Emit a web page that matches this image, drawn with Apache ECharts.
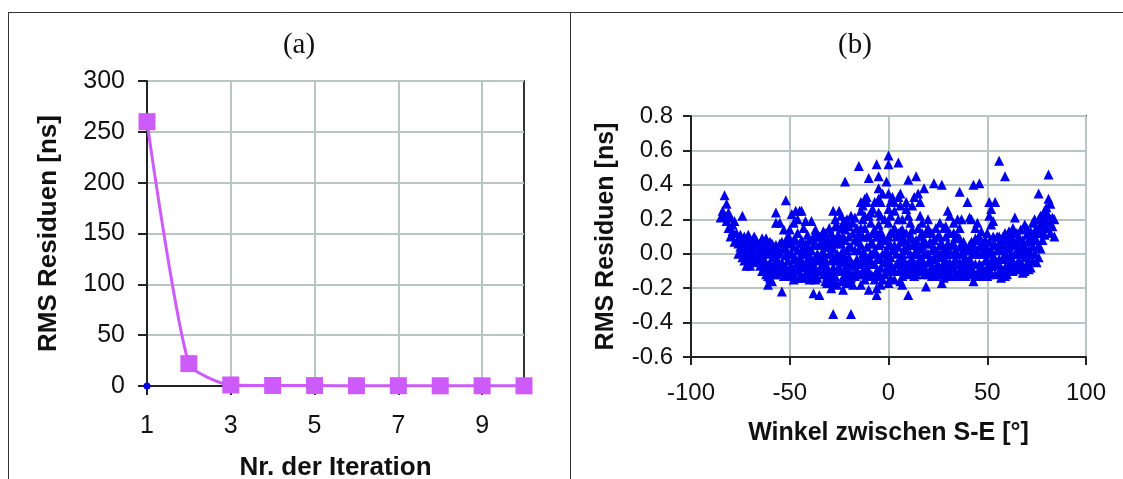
<!DOCTYPE html>
<html>
<head>
<meta charset="utf-8">
<script src="https://cdn.jsdelivr.net/npm/echarts@6/dist/echarts.min.js"></script>
<style>
  html, body { margin: 0; padding: 0; background: #ffffff; }
  #chart { width: 1123px; height: 479px; }
</style>
</head>
<body>
<div id="chart"></div>
<script>
// (a) convergence of the RMS residuals per iteration
const iterations = ['1', '2', '3', '4', '5', '6', '7', '8', '9', '10'];
const rmsPerIteration = [260, 22, 1, 0.5, 0.4, 0.3, 0.3, 0.2, 0.2, 0.2];
const startMarker = [0];

// (b) RMS residuals [ns] against the S-E angle [deg], grouped by angle sector
const sectorFarWest = [
  [-83,0.34],[-82,0.29],[-84,0.25],[-85,0.21],[-83,0.22],[-81,0.24],[-82,0.19],[-80,0.21],[-79,0.17],
  [-81,0.15],[-78,0.19],[-74,0.22],[-79,0.13],[-80,0.10],[-77,0.12],[-76,0.09],[-78,0.07],
  [-75,0.11],[-74,0.08],[-73,0.10],[-72,0.07],[-71,0.11],[-70,0.08],[-69,0.05],[-75,0.04],[-74,0.01],
  [-72,0.03],[-71,0.00],[-70,-0.02],[-73,-0.04],[-72,-0.07],[-70,-0.07],[-68,-0.05],[-69,0.02],[-67,0.08],
  [-66,0.05],[-68,0.10],[-67,-0.01],[-66,-0.03],[-65,0.02],[-76,0.00],[-71,0.05],
  [-76,0.06],[-74,-0.02],[-73,0.06],[-71,-0.03],[-69,0.08],[-68,-0.01],[-67,0.04],[-70,0.03],[-72,-0.01]
];
const sectorWest = [
  [-64,0.09],[-63,0.06],[-62,0.09],[-61,0.04],[-60,0.07],[-59,0.02],[-64,0.00],[-63,-0.03],[-62,-0.06],
  [-61,-0.09],[-60,-0.05],[-59,-0.10],[-58,-0.02],[-57,0.05],[-56,0.00],[-58,-0.07],[-57,-0.12],[-56,-0.09],
  [-65,-0.07],[-64,-0.10],[-62,-0.12],[-60,-0.14],[-61,-0.18],[-59,-0.16],[-57,0.24],[-57,0.18],[-55,0.18],
  [-63,0.03],[-60,0.01],[-58,0.04],[-55,0.06],[-56,-0.04],
  [-52,0.31],[-54,-0.22],[-53,0.14],[-51,0.10],[-50,0.06],[-54,0.07],[-53,0.03],[-52,-0.01],[-51,-0.04],
  [-50,-0.08],[-49,-0.12],[-48,-0.15],[-47,-0.10],[-46,-0.05],[-49,0.00],[-48,0.04],[-47,0.08],[-46,0.12],
  [-55,-0.07],[-53,-0.10],[-51,-0.13],[-47,0.25],[-49,0.23],[-45,0.25],[-46,0.20],[-48,0.18],[-50,0.14],
  [-52,0.07],[-47,-0.03],[-45,-0.14],[-44,0.02],
  [-65,0.06],[-65,-0.04],[-64,0.04],[-63,-0.08],[-62,0.01],[-61,-0.13],[-61,0.00],[-60,-0.09],[-59,0.06],
  [-58,-0.12],[-57,-0.05],[-56,0.03],[-55,-0.11],[-55,0.01],[-54,-0.05],[-53,-0.13],[-52,-0.08],[-52,0.03],
  [-51,0.00],[-50,-0.11],[-50,0.09],[-49,-0.07],[-48,-0.03],[-48,0.08],[-47,-0.14],[-46,0.02],[-46,-0.10],
  [-45,0.06],[-45,-0.07],[-64,-0.06],[-66,0.00]
];
const sectorMidWest = [
  [-44,0.25],[-42,0.19],[-39,0.19],[-43,0.15],[-41,0.11],[-40,0.08],[-38,0.10],[-37,0.06],[-44,0.08],
  [-43,0.04],[-42,0.00],[-41,-0.03],[-40,-0.06],[-39,-0.09],[-38,-0.12],[-37,-0.15],[-43,-0.08],[-42,-0.12],
  [-44,-0.13],[-40,-0.15],[-38,-0.23],[-35,-0.24],[-36,-0.04],[-39,0.02],[-37,0.14],[-36,0.11],[-35,0.05],
  [-45,-0.02],[-41,0.05],
  [-34,0.10],[-33,0.13],[-32,0.08],[-31,0.04],[-30,0.15],[-29,0.12],[-28,0.25],[-27,0.20],[-26,0.16],
  [-34,0.00],[-33,-0.05],[-32,-0.09],[-31,-0.13],[-30,-0.17],[-29,-0.20],[-28,-0.08],[-27,-0.13],[-26,-0.04],
  [-35,-0.10],[-30,0.00],[-29,-0.04],[-28,-0.35],[-33,0.06],[-31,0.10],[-27,0.07],[-26,0.00],[-28,0.03],
  [-32,-0.16],[-26,-0.18],
  [-44,-0.04],[-43,0.00],[-43,-0.14],[-42,0.06],[-42,-0.06],[-41,-0.10],[-41,0.00],[-40,0.02],[-40,-0.11],
  [-39,-0.03],[-39,-0.14],[-38,0.05],[-38,-0.06],[-37,-0.02],[-37,-0.10],[-36,0.00],[-36,-0.14],[-35,0.10],
  [-35,-0.02],[-34,-0.07],[-34,0.05],[-33,-0.12],[-33,0.01],[-32,0.12],[-32,-0.03],[-31,-0.08],[-31,0.07],
  [-30,0.04],[-30,-0.10],[-29,0.00],[-29,-0.15],[-28,0.09],[-28,-0.12],[-27,0.16],[-27,-0.03],[-26,0.10],
  [-26,-0.09],[-27,-0.17],[-29,0.06],[-31,-0.17]
];
const sectorCentreWest = [
  [-25,0.25],[-24,0.22],[-23,0.18],[-22,0.14],[-21,0.20],[-20,0.16],[-19,0.22],[-18,0.18],[-17,0.21],
  [-22,0.42],[-25,0.10],[-24,0.06],[-23,0.02],[-22,-0.02],[-21,-0.06],[-20,-0.10],[-19,-0.14],[-24,-0.10],
  [-23,-0.14],[-23,-0.21],[-21,-0.17],[-19,-0.35],[-18,-0.18],[-17,-0.13],[-18,-0.06],[-17,0.02],[-16,0.08],
  [-20,0.04],[-25,-0.03],[-22,0.08],[-16,-0.03],
  [-15,0.51],[-14,0.30],[-13,0.28],[-12,0.32],[-11,0.30],[-10,0.44],[-14,0.25],[-13,0.20],[-12,0.15],
  [-11,0.10],[-10,0.22],[-9,0.18],[-14,0.05],[-13,0.00],[-14,-0.05],[-13,-0.10],[-12,-0.15],[-11,-0.08],
  [-10,-0.03],[-9,-0.12],[-10,-0.21],[-14,-0.18],[-8,0.12],[-8,0.26],[-7,0.30],[-9,0.06],[-8,-0.06],
  [-7,0.02],[-7,-0.15],[-6,-0.24],[-15,0.12],[-15,0.02],[-15,-0.12],[-11,0.33],[-12,-0.05],
  [-25,0.06],[-25,-0.08],[-24,0.00],[-24,0.15],[-24,-0.16],[-23,-0.05],[-23,0.10],[-22,-0.09],[-22,0.19],
  [-21,0.02],[-21,-0.12],[-20,-0.02],[-20,0.10],[-20,-0.16],[-19,0.04],[-19,-0.06],[-18,0.12],[-18,-0.12],
  [-17,-0.07],[-17,0.08],[-16,0.15],[-16,-0.10],[-15,0.07],[-15,-0.06],[-14,0.15],[-14,-0.12],[-13,0.10],
  [-13,-0.04],[-12,0.22],[-12,0.00],[-11,-0.13],[-11,0.04],[-10,0.10],[-10,-0.12],[-9,-0.04],[-9,0.00],
  [-8,0.06],[-8,-0.13],[-7,-0.06],[-7,0.14],[-9,0.24]
];
const sectorCentre = [
  [-6,0.52],[-5,0.45],[-5,0.38],[-4,0.30],[-5,0.32],[-4,0.22],[-5,0.17],[-4,0.13],[-5,0.10],
  [-4,0.06],[-5,-0.02],[-4,-0.08],[-5,-0.12],[-4,-0.18],[-6,-0.20],[0,0.57],[0,0.52],[0,0.35],
  [1,0.30],[0,0.26],[1,0.22],[0,0.18],[1,0.12],[0,0.05],[0,-0.01],[1,-0.06],[0,-0.10],
  [1,-0.14],[0,-0.17],[-2,0.08],[-2,-0.05],[2,0.02],[3,-0.10],[3,0.25],[-3,0.35],[-2,0.20],
  [2,0.33],[3,0.15],[-1,0.42],
  [5,0.53],[6,0.35],[5,0.33],[6,0.28],[7,0.20],[5,0.20],[6,0.13],[7,0.08],[5,0.04],
  [6,-0.02],[7,-0.07],[5,-0.10],[6,-0.16],[7,-0.13],[8,0.03],[9,0.12],[9,0.26],[10,0.22],
  [11,0.18],[10,0.43],[9,0.30],[10,-0.24],[11,0.10],[12,0.05],[13,0.00],[14,0.45],[13,0.33],
  [12,0.14],[11,-0.05],[12,-0.10],[13,-0.13],[10,-0.06],[14,0.08],[14,-0.06],[8,-0.10],[12,0.28],
  [-6,0.00],[-6,0.10],[-6,-0.10],[-5,0.05],[-5,0.24],[-4,-0.03],[-4,-0.13],[-3,0.00],[-3,-0.15],
  [-3,0.10],[-2,-0.12],[-1,0.02],[-1,-0.08],[0,0.10],[0,-0.05],[1,0.05],[1,-0.02],[2,-0.08],
  [2,0.12],[3,0.05],[3,-0.15],[4,0.00],[4,-0.06],[4,0.10],[5,-0.05],[5,0.12],[6,0.07],
  [6,-0.10],[7,0.00],[7,-0.18],[8,0.08],[8,-0.04],[9,-0.08],[9,0.02],[10,0.05],[10,-0.12],
  [11,0.00],[11,-0.10],[12,-0.03],[12,0.09],[13,0.06],[13,-0.08],[14,0.02],[14,-0.12],[7,0.14],[3,0.30]
];
const sectorMidEast = [
  [15,0.35],[16,0.30],[17,0.18],[18,0.38],[15,0.15],[16,0.10],[17,0.05],[15,0.00],[16,-0.04],
  [17,-0.09],[18,-0.12],[19,-0.19],[19,0.12],[20,0.15],[21,0.07],[22,0.02],[20,-0.05],[21,-0.10],
  [22,-0.13],[23,0.41],[23,0.08],[24,0.15],[24,-0.08],[19,0.00],[18,0.08],[22,0.12],[15,-0.10],
  [20,0.20],[23,-0.03],[16,0.22],
  [27,0.40],[28,0.15],[29,0.10],[30,0.25],[31,0.22],[26,0.05],[27,0.00],[28,-0.05],[29,-0.10],
  [30,-0.13],[27,-0.17],[26,-0.12],[25,-0.06],[25,0.10],[31,0.00],[32,0.05],[33,0.12],[32,-0.08],
  [33,-0.13],[34,-0.10],[30,0.06],[29,0.16],[26,0.18],[34,0.02],[31,-0.05],[33,0.18],[28,-0.14],
  [15,0.05],[15,-0.05],[16,0.03],[16,-0.09],[17,-0.03],[17,0.12],[18,0.00],[18,-0.07],[19,0.06],
  [19,-0.10],[20,0.00],[20,-0.12],[21,-0.04],[21,0.12],[22,-0.07],[22,0.06],[23,-0.10],[23,0.03],
  [24,0.00],[24,-0.13],[25,0.02],[25,-0.12],[26,-0.02],[26,0.10],[27,-0.08],[27,0.06],[28,0.00],
  [28,-0.10],[29,-0.04],[29,0.03],[30,-0.07],[30,0.00],[31,0.12],[31,-0.12],[32,0.00],[32,-0.13],
  [33,-0.05],[33,0.06],[34,-0.03],[34,0.10]
];
const sectorEast = [
  [36,0.36],[40,0.30],[43,0.40],[35,0.20],[36,0.15],[37,0.20],[35,0.10],[36,0.04],[37,0.00],
  [38,-0.04],[39,-0.08],[40,-0.12],[41,-0.03],[42,0.02],[43,0.05],[44,0.09],[42,0.20],[41,0.21],
  [43,-0.16],[42,-0.10],[44,-0.06],[36,-0.10],[37,-0.13],[39,0.02],[35,-0.06],[44,0.15],[38,0.07],
  [46,0.41],[51,0.30],[54,0.30],[45,0.18],[46,0.10],[47,0.05],[48,0.00],[49,-0.04],[50,-0.08],
  [51,-0.12],[52,-0.07],[53,-0.02],[45,-0.11],[46,-0.06],[47,-0.13],[48,-0.09],[49,0.08],[50,0.12],
  [51,0.22],[52,0.17],[53,0.10],[54,0.05],[52,0.26],[54,-0.12],[53,0.19],[50,0.03],[47,0.13],
  [35,0.00],[35,-0.12],[36,-0.05],[36,0.09],[37,-0.08],[37,0.05],[38,-0.10],[38,0.00],[39,-0.13],
  [39,-0.03],[40,-0.07],[40,0.02],[41,-0.12],[41,0.05],[42,-0.05],[42,0.07],[43,0.00],[43,-0.10],
  [44,0.03],[44,-0.13],[45,0.00],[45,0.08],[46,-0.10],[46,0.04],[47,-0.07],[47,0.00],[48,-0.13],
  [48,0.05],[49,-0.10],[49,0.02],[50,-0.04],[50,-0.13],[51,0.00],[51,0.07],[52,-0.11],[52,0.02],
  [53,-0.07],[53,0.05],[54,-0.03],[55,0.02],[56,-0.03],[56,0.10]
];
const sectorFarEast = [
  [56,0.54],[59,0.45],[64,0.21],[55,0.10],[56,0.06],[57,0.02],[58,-0.03],[59,-0.08],[60,-0.12],
  [57,-0.14],[55,-0.06],[56,-0.11],[58,0.10],[59,0.12],[60,0.08],[61,0.04],[62,0.00],[63,-0.04],
  [64,-0.08],[61,0.13],[62,0.10],[63,0.15],[60,-0.02],[62,-0.10],[57,0.08],[64,0.05],
  [65,0.12],[66,0.10],[67,0.06],[68,0.02],[69,-0.02],[70,-0.06],[69,-0.10],[71,-0.04],[72,0.00],
  [73,0.04],[71,0.08],[72,0.13],[73,0.18],[74,0.20],[66,-0.04],[67,-0.09],[65,0.00],[68,-0.07],
  [70,0.11],[69,0.17],[72,-0.08],[74,0.08],[67,0.14],
  [76,0.35],[81,0.46],[81,0.32],[82,0.29],[83,0.21],[84,0.10],[77,0.03],[75,0.15],[76,0.20],
  [77,0.22],[78,0.18],[79,0.20],[80,0.24],[81,0.22],[82,0.18],[80,0.15],[79,0.11],[78,0.08],
  [83,0.16],[82,0.12],[76,0.05],[75,-0.05],[77,0.13],[80,0.27],[84,0.20],[79,0.25],
  [57,-0.08],[58,0.05],[58,-0.11],[59,0.00],[59,-0.13],[60,0.03],[61,-0.06],[61,-0.10],[62,0.05],
  [62,-0.05],[63,0.08],[63,-0.10],[64,0.00],[64,0.12],[65,-0.06],[65,0.07],[66,0.03],[66,-0.09],
  [67,0.00],[68,-0.11],[68,0.08],[69,0.04],[70,0.00],[70,0.15],[71,-0.09],[71,0.02],[72,0.07],
  [73,-0.04],[73,0.10],[74,0.13],[74,0.00],[75,0.08],[76,0.12],[77,0.17],[78,0.13],[76,-0.02]
];

const residualPoints = [].concat(
  sectorFarWest, sectorWest, sectorMidWest, sectorCentreWest,
  sectorCentre, sectorMidEast, sectorEast, sectorFarEast
);

const ink = '#111111';
const frame = '#333333';
const gridLine = '#B7C6C3';
const violet = '#CC5BFA';
const blue = '#0000EE';
const sans = '"Liberation Sans", Arial, sans-serif';
const serif = '"Liberation Serif", "Times New Roman", serif';

const chart = echarts.init(document.getElementById('chart'), null, { renderer: 'canvas' });

chart.setOption({
  animation: false,
  backgroundColor: '#ffffff',
  title: [
    { text: '(a)', left: 294, top: 40, textAlign: 'center', textVerticalAlign: 'middle',
      textStyle: { fontFamily: serif, fontSize: 29, fontWeight: 'normal', color: ink } },
    { text: '(b)', left: 850, top: 40, textAlign: 'center', textVerticalAlign: 'middle',
      textStyle: { fontFamily: serif, fontSize: 29, fontWeight: 'normal', color: ink } }
  ],
  graphic: [
    { type: 'line', shape: { x1: 8, y1: 12.5, x2: 1123, y2: 12.5 }, style: { stroke: frame, lineWidth: 1 } },
    { type: 'line', shape: { x1: 8.5, y1: 12, x2: 8.5, y2: 479 }, style: { stroke: frame, lineWidth: 1 } },
    { type: 'line', shape: { x1: 570.5, y1: 12, x2: 570.5, y2: 479 }, style: { stroke: frame, lineWidth: 1 } }
  ],
  grid: [
    { left: 147, top: 81, width: 377, height: 305, show: true, containLabel: false,
      outerBoundsMode: 'none',
      borderColor: frame, borderWidth: 2, backgroundColor: 'transparent' },
    { left: 691, top: 116, width: 395, height: 241, show: true, containLabel: false,
      outerBoundsMode: 'none',
      borderColor: frame, borderWidth: 2, backgroundColor: 'transparent' }
  ],
  xAxis: [
    {
      gridIndex: 0, type: 'category', data: iterations, boundaryGap: false,
      name: 'Nr. der Iteration', nameLocation: 'middle', nameGap: 69,
      nameTextStyle: { fontFamily: sans, fontSize: 26, fontWeight: 'bold', color: ink },
      axisLine: { lineStyle: { color: '#222222', width: 2 } },
      axisTick: { show: true, inside: false, length: 9, interval: 1, lineStyle: { color: '#222222', width: 2 } },
      axisLabel: { interval: 1, margin: 28, fontFamily: sans, fontSize: 25, color: ink },
      splitLine: { show: true, interval: 1, lineStyle: { color: gridLine, width: 2 } }
    },
    {
      gridIndex: 1, type: 'value', min: -100, max: 100, interval: 50,
      name: 'Winkel zwischen S-E [°]', nameLocation: 'middle', nameGap: 64,
      nameTextStyle: { fontFamily: sans, fontSize: 25, fontWeight: 'bold', color: ink },
      axisLine: { onZero: false, lineStyle: { color: '#222222', width: 2 } },
      axisTick: { show: true, inside: false, length: 8, lineStyle: { color: '#222222', width: 2 } },
      axisLabel: { margin: 24, fontFamily: sans, fontSize: 24, color: ink },
      splitLine: { show: true, lineStyle: { color: gridLine, width: 2 } }
    }
  ],
  yAxis: [
    {
      gridIndex: 0, type: 'value', min: 0, max: 300, interval: 50,
      name: 'RMS Residuen [ns]', nameLocation: 'middle', nameGap: 85, nameRotate: 90,
      nameTextStyle: { fontFamily: sans, fontSize: 26, fontWeight: 'bold', color: ink },
      axisLine: { show: true, lineStyle: { color: '#222222', width: 2 } },
      axisTick: { show: true, inside: false, length: 9, lineStyle: { color: '#222222', width: 2 } },
      axisLabel: { margin: 22, fontFamily: sans, fontSize: 25, color: ink },
      splitLine: { show: true, lineStyle: { color: gridLine, width: 2 } }
    },
    {
      gridIndex: 1, type: 'value', min: -0.6, max: 0.8, interval: 0.2,
      name: 'RMS Residuen [ns]', nameLocation: 'middle', nameGap: 72, nameRotate: 90,
      nameTextStyle: { fontFamily: sans, fontSize: 25, fontWeight: 'bold', color: ink },
      axisLine: { show: true, onZero: false, lineStyle: { color: '#222222', width: 2 } },
      axisTick: { show: true, inside: false, length: 8, lineStyle: { color: '#222222', width: 2 } },
      axisLabel: { margin: 18, fontFamily: sans, fontSize: 24, color: ink,
        formatter: v => v.toFixed(1) },
      splitLine: { show: true, lineStyle: { color: gridLine, width: 2 } }
    }
  ],
  series: [
    {
      type: 'line', xAxisIndex: 0, yAxisIndex: 0, data: rmsPerIteration,
      smooth: 0.2, symbol: 'rect', symbolSize: 17, clip: false,
      lineStyle: { color: violet, width: 3 },
      itemStyle: { color: violet }
    },
    {
      type: 'line', xAxisIndex: 0, yAxisIndex: 0, data: startMarker,
      symbol: 'circle', symbolSize: 7, showSymbol: true,
      itemStyle: { color: blue }, lineStyle: { width: 0 }
    },
    {
      type: 'scatter', xAxisIndex: 1, yAxisIndex: 1, data: residualPoints,
      symbol: 'triangle', symbolSize: [10, 10],
      itemStyle: { color: blue, opacity: 1 }
    }
  ]
});
</script>
</body>
</html>
